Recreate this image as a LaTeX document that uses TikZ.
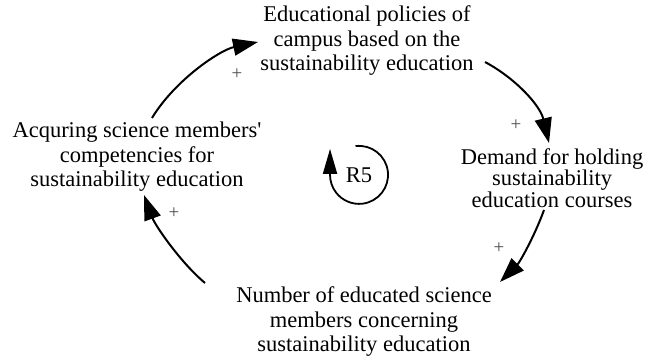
\documentclass[tikz,border=0pt]{standalone}
\usepackage{fontspec}
\setmainfont{Liberation Serif}
\newfontfamily\tnr{Liberation Serif}
\usetikzlibrary{arrows.meta,calc}
\begin{document}
\begin{tikzpicture}[x=1pt,y=1pt,
  lbl/.style={align=center,inner sep=0pt,font=\tnr\fontsize{22.5}{24.5}\selectfont},
  conn/.style={line width=2pt,-{Triangle[length=25pt,width=17pt]}},
  sign/.style={font=\tnr\fontsize{19}{19}\selectfont,text=black!70,inner sep=0pt}]
\useasboundingbox (0,0) rectangle (660,363);
\node[lbl] (A) at (367,322) {Educational policies of\\campus based on the\\sustainability education};
\node[lbl,font=\tnr\fontsize{22.5}{19.5}\selectfont] (B) at (552,185) {Demand for holding\\sustainability\\education courses};
\node[lbl] (C) at (364,41) {Number of educated science\\members concerning\\sustainability education};
\node[lbl] (L) at (137,206) {Acquring science members\textquotesingle\\competencies for\\sustainability education};
\node[font=\tnr\fontsize{22.5}{24}\selectfont,inner sep=0pt] (R) at (359,188) {R5};
\node[sign] (p1) at (237,289) {+};
\node[sign] (p2) at (516,238) {+};
\node[sign] (p3) at (499,115) {+};
\node[sign] (p4) at (174,150) {+};
\draw[conn] ($(L)+(15,39)$) .. controls ($(L)+(38,77)$) and ($(A)+(-147,-9)$) .. ($(A)+(-109,-1)$);
\draw[conn] ($(A)+(118,-21)$) .. controls ($(A)+(148,-37)$) and ($(B)+(-12,73)$) .. ($(B)+(-3,35)$);
\draw[conn] ($(B)+(-8,-32)$) .. controls ($(B)+(-17,-57)$) and ($(C)+(156,60)$) .. ($(C)+(136,40)$);
\draw[conn] ($(C)+(-159,39)$) .. controls ($(C)+(-184,60)$) and ($(L)+(18,-68)$) .. ($(L)+(7,-38)$);
\draw[line width=1.8pt,-{Triangle[length=25pt,width=14pt]}] ($(R)+(-3.5,28.9)$) arc[start angle=97, end angle=-180, radius=29] -- ++(0,26);
\end{tikzpicture}
\end{document}
